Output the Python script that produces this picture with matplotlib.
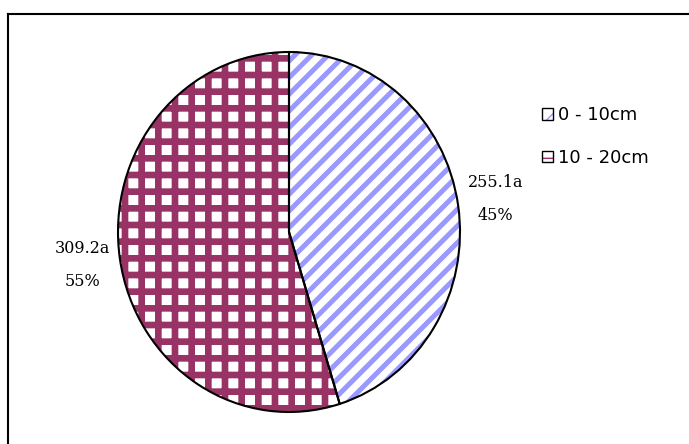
import matplotlib
matplotlib.use("Agg")
import matplotlib.pyplot as plt
from matplotlib.patches import Patch
from matplotlib.lines import Line2D

# data
depths = ["0 - 10cm", "10 - 20cm"]
values = [255.1, 309.2]
letters = ["a", "a"]
percents = [45, 55]

face_colors = ["white", "white"]
hatch_colors = ["#9999FF", "#993366"]
hatches = ["//", "+"]
hatch_widths = [3.6, 4.8]

fig = plt.figure(figsize=(6.89, 4.44), dpi=100)

# outer frame (only top and left visible in the reference)
fig.add_artist(Line2D([8 / 689, 8 / 689], [0, 1 - 14 / 444], color="black", lw=1.5,
                      transform=fig.transFigure))
fig.add_artist(Line2D([8 / 689, 1], [1 - 14 / 444, 1 - 14 / 444], color="black", lw=1.5,
                      transform=fig.transFigure))

ax = fig.add_axes([118 / 689, 32 / 444, 342 / 689, 360 / 444])

labels = [f"{v:.1f}{l}\n{p}%" for v, l, p in zip(values, letters, percents)]

# hatched fill
wedges, texts = ax.pie(values, startangle=90, counterclock=False,
                       labels=labels, labeldistance=1.22,
                       textprops=dict(fontsize=11.5, family="DejaVu Serif",
                                      linespacing=2.2))
for t in texts:
    t.set_horizontalalignment("center")
    t.set_multialignment("center")

for w, fc, hc, h, hw in zip(wedges, face_colors, hatch_colors, hatches, hatch_widths):
    w.set_facecolor(fc)
    w.set_edgecolor(hc)
    w.set_hatch(h)
    w.set_linewidth(0)
    if hasattr(w, "set_hatch_linewidth"):
        w.set_hatch_linewidth(hw)

# black outline on top
ax.pie(values, startangle=90, counterclock=False,
       wedgeprops=dict(facecolor="none", edgecolor="black", linewidth=1.5))

ax.set_aspect("auto")
ax.set_xlim(-1, 1)
ax.set_ylim(-1, 1)

# legend: hatched box with a black outline
handles = []
for fc, hc, h in zip(face_colors, hatch_colors, hatches):
    fill = Patch(facecolor=fc, edgecolor=hc, hatch=h, linewidth=0)
    outline = Patch(facecolor="none", edgecolor="black", linewidth=1.0)
    handles.append((fill, outline))
leg = fig.legend(handles, depths, loc="upper left",
                 bbox_to_anchor=(526 / 689, 1 - 90 / 444),
                 frameon=False, handlelength=0.6, handleheight=0.6,
                 handletextpad=0.25, labelspacing=1.35,
                 prop=dict(family="DejaVu Sans", size=13))

fig.savefig("out.png", dpi=100)
